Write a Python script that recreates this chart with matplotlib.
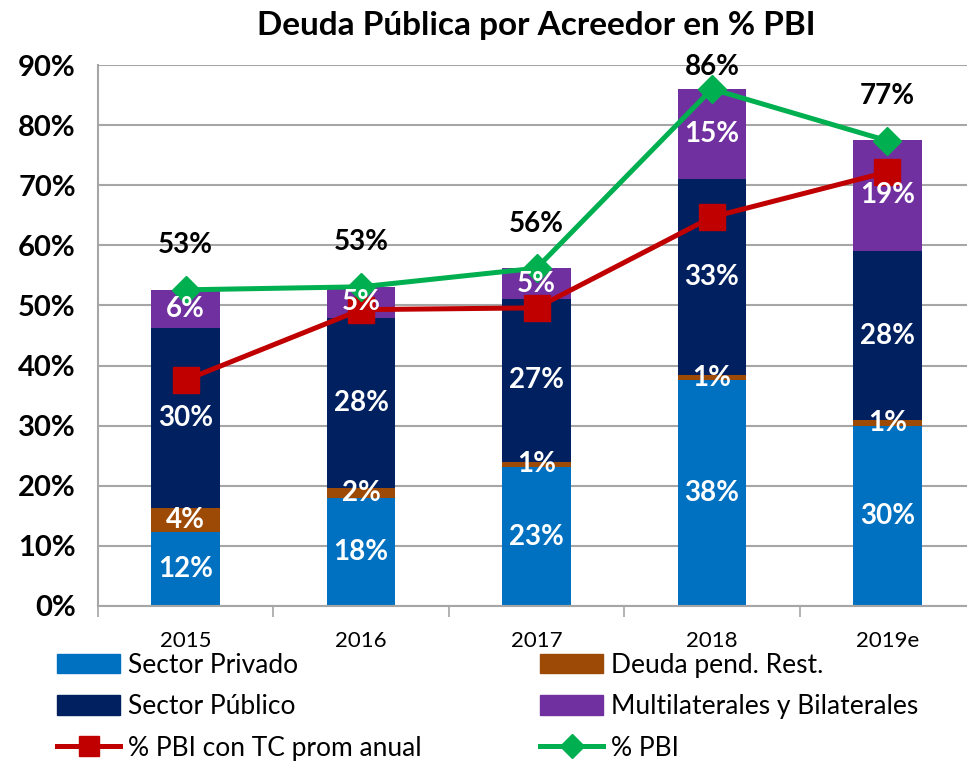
import matplotlib.pyplot as plt
import numpy as np
from matplotlib.lines import Line2D
from matplotlib.patches import Patch

# datos (% del PBI)
anios = ['2015', '2016', '2017', '2018', '2019e']
privado = [12.3, 18.0, 23.1, 37.6, 30.0]
deuda_pend = [4.0, 1.6, 0.9, 0.8, 0.9]
publico = [30.0, 28.3, 27.1, 32.6, 28.1]
multilat = [6.3, 5.2, 5.1, 15.0, 18.6]
pbi_tc = [37.6, 49.3, 49.6, 64.7, 72.2]
pbi = [52.6, 53.1, 56.2, 86.0, 77.4]

c_priv = '#0070C0'
c_deuda = '#9C4A06'
c_pub = '#002060'
c_multi = '#7030A0'
c_rojo = '#C00000'
c_verde = '#00B050'

fuente = ['Lato', 'DejaVu Sans']

fig = plt.figure(figsize=(9.67, 7.61), dpi=100)
ax = fig.add_axes([98 / 967, 1 - 606 / 761, 877 / 967, (606 - 65) / 761])

x = np.arange(len(anios))
w = 0.39
series = [(privado, c_priv), (deuda_pend, c_deuda), (publico, c_pub), (multilat, c_multi)]
base = np.zeros(len(anios))
for vals, col in series:
    vals = np.array(vals)
    ax.bar(x, vals, w, bottom=base, color=col, zorder=2)
    for i, v in enumerate(vals):
        ax.text(x[i], base[i] + v / 2, '%.0f%%' % v, ha='center', va='center',
                color='white', fontsize=20, fontweight='bold', family=fuente, zorder=5)
    base = base + vals

ax.plot(x, pbi_tc, color=c_rojo, lw=3.6, marker='s', ms=19, zorder=4)
ax.plot(x, pbi, color=c_verde, lw=3.6, marker='D', ms=14, zorder=4)

for i, v in enumerate(pbi):
    ax.text(x[i], min(v + 7.4, 89.6), '%.0f%%' % v, ha='center', va='center',
            fontsize=20, fontweight='bold', family=fuente, color='black', zorder=5)

ax.set_xlim(-0.5, len(anios) - 0.5)
ax.set_ylim(0, 90)
ax.set_yticks(np.arange(0, 91, 10))
ax.set_yticklabels(['%d%%' % t for t in range(0, 91, 10)], fontsize=21,
                   fontweight='bold', family=fuente)
ax.tick_params(axis='y', length=0, pad=16)
ax.yaxis.grid(True, color='#A6A6A6', lw=1.5, zorder=0)
ax.set_axisbelow(True)

ax.set_xticks(x)
ax.set_xticklabels(anios, fontsize=16, family=fuente)
ax.set_xticks(np.arange(-0.5, len(anios)), minor=True)
ax.tick_params(axis='x', which='major', length=0, pad=18)
ax.tick_params(axis='x', which='minor', length=8, color='#A6A6A6', width=1.2)

for s in ['top', 'right']:
    ax.spines[s].set_visible(False)
for s in ['left', 'bottom']:
    ax.spines[s].set_color('#A6A6A6')
    ax.spines[s].set_linewidth(1.5)

fig.text(0.555, 0.967, 'Deuda Pública por Acreedor en % PBI', ha='center', va='center',
         fontsize=24, fontweight='bold', family=fuente)

col1 = [
    Patch(color=c_priv, label='Sector Privado'),
    Patch(color=c_pub, label='Sector Público'),
    Line2D([], [], color=c_rojo, lw=3.6, marker='s', ms=15, label='% PBI con TC prom anual'),
]
col2 = [
    Patch(color=c_deuda, label='Deuda pend. Rest.'),
    Patch(color=c_multi, label='Multilaterales y Bilaterales'),
    Line2D([], [], color=c_verde, lw=3.6, marker='D', ms=12, label='% PBI'),
]
opts = dict(loc='upper left', frameon=False, prop={'family': fuente, 'size': 19},
            handlelength=2.4, handleheight=0.75, handletextpad=0.3, labelspacing=0.62,
            borderaxespad=0, borderpad=0)
fig.legend(handles=col1, bbox_to_anchor=(57 / 967, 1 - 653 / 761), **opts)
fig.legend(handles=col2, bbox_to_anchor=(540 / 967, 1 - 653 / 761), **opts)

fig.savefig('out.png', dpi=100)
